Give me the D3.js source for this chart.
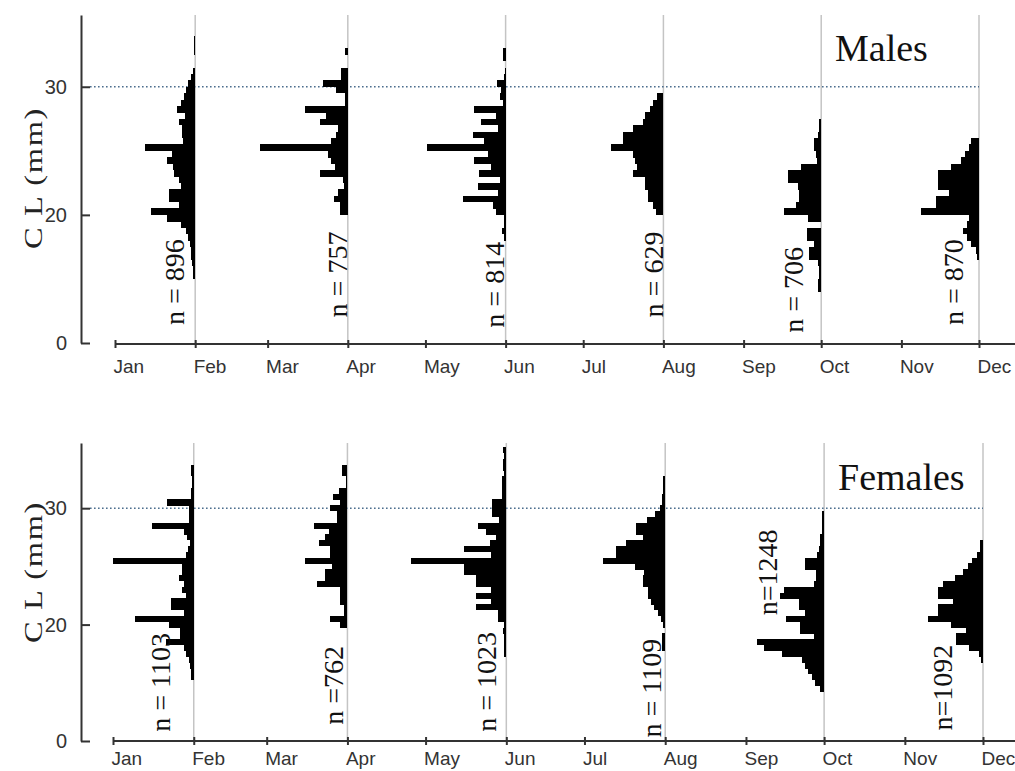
<!DOCTYPE html>
<html>
<head>
<meta charset="utf-8">
<title>Monthly CL frequency distributions</title>
<script src="https://cdn.jsdelivr.net/npm/d3@7"></script>
<style>
  html, body { margin: 0; padding: 0; background: #fff; }
  svg { display: block; }
</style>
</head>
<body>
<svg id="chart" width="1015" height="771"></svg>
<script>
// ---- axes -------------------------------------------------------------
const monthNames = ["Jan","Feb","Mar","Apr","May","Jun","Jul","Aug","Sep","Oct","Nov","Dec"];
const clExtent = [10, 35.6];          // carapace length range shown (mm)
const clTickValues = [10, 20, 30];
const clTickLabels = ["0", "20", "30"];
const clReference = 30;               // dotted reference size
const binWidth = 0.5;                 // histogram bin width (mm)
const sampleMonths = [1, 3, 5, 7, 9, 11];   // Feb, Apr, Jun, Aug, Oct, Dec
const yTitle = "C L (mm)";

// ---- males: relative frequency per bin, listed from the smallest bin up ----
const maleTitle = "Males";
const maleCounts = ["n = 896", "n = 757", "n = 814", "n = 629", "n = 706", "n = 870"];
const maleBinStart = [15.0, 20.0, 18.0, 20.0, 14.0, 16.5];
const maleFeb = [0.2,0.2,0.3,0.4,0.4,0.5,0.7,0.9,1.4,2.8,4.4,1.6,2.6,2.6,1.4,1.6,2.1,2.2,2.8,2.3,5.0,1.2,1.3,1.3,1.6,1.0,1.8,1.4,1.1,0.9,0.7,0.4,0.2,0,0,0.1,0.15,0.15];
const maleApr = [0.8,0.8,1.4,1.0,0.4,0.5,2.8,1.3,1.7,2.0,8.8,1.7,1.2,1.0,2.8,2.2,4.3,0.3,0.3,1.2,2.5,0.7,0.7,0,0,0.3];
const maleJun = [0.2,0.4,0.2,0.2,1.0,1.3,4.3,0.8,2.8,0.6,2.7,1.5,3.2,1.8,7.9,2.2,3.3,0.8,2.5,1.0,3.2,0.3,0.6,0.5,0.9,0.2,0.1,0,0.3,0.3];
const maleAug = [0.7,1.0,1.5,1.5,1.8,1.8,3.0,2.6,2.8,3.0,5.2,4.0,4.0,3.0,2.0,1.8,1.3,1.0,0.6];
const maleOct = [0.3,0.3,0.2,0.2,0.3,1.2,1.2,0.7,1.4,1.4,0,1.3,3.7,2.5,2.2,2.2,2.3,3.3,3.3,2.0,0.4,0.5,0.7,0.7,0.3,0.2,0.2];
const maleDec = [0.2,0.3,0.8,1.2,1.6,1.2,1.0,5.8,4.3,4.3,3.0,4.1,4.1,4.1,2.8,1.8,1.4,1.0,0.8];

// ---- females ------------------------------------------------------------
const femaleTitle = "Females";
const femaleCounts = ["n = 1103", "n =762", "n = 1023", "n = 1109", "n=1248", "n=1092"];
const femaleBinStart = [15.25, 19.75, 17.25, 17.75, 14.25, 16.75];
const femaleFeb = [0.3,0.3,0.4,0.5,0.8,1.0,2.8,1.4,1.4,2.5,5.9,1.0,2.3,2.3,0.8,1.2,1.0,1.5,1.2,1.2,8.1,0.8,0.6,0.4,0.7,1.0,4.2,0.5,0.5,0.5,2.7,0.3,0.3,0.2,0.2,0.3,0.3];
const femaleApr = [0.7,1.7,0.3,0.3,0.7,0.7,0.7,3.0,2.2,2.2,1.5,4.2,1.7,1.7,2.8,2.2,1.8,3.3,1.0,1.0,1.7,0.7,1.4,0.8,0.1,0.1,0.5,0.5];
const femaleJun = [0.2,0.2,0.2,0.2,0.3,0.2,0.8,0.8,3.0,1.5,3.0,1.5,3.0,3.0,4.2,4.2,9.5,1.5,4.2,1.6,1.0,2.0,2.8,0.7,1.4,1.4,1.4,0.4,0.4,0.4,0.4,0.2,0.3,0.3,0.2,0.3];
const femaleAug = [0.3,0.3,0.3,0,0.2,0.4,0.7,1.1,1.4,1.7,1.7,2.2,2.2,2.1,3.0,6.2,4.9,4.9,3.9,2.2,2.9,2.9,1.8,1.0,0.5,0.3,0.3,0.2,0.2,0.2];
const femaleOct = [0.4,0.9,1.2,1.6,1.9,2.2,4.2,6.0,6.7,1.0,2.4,2.4,3.8,1.9,2.5,2.5,4.4,4.0,1.0,0.8,0.8,1.9,1.9,0.7,0.5,0.4,0.4,0.2,0.2,0.2,0.2];
const femaleDec = [0.2,0.4,1.4,2.7,2.7,1.7,3.2,5.5,4.5,4.5,3.0,4.5,4.5,4.0,2.8,2.0,1.5,1.1,0.6,0.3,0.3];

// ---- layout -------------------------------------------------------------
const svg = d3.select("#chart");
const serif = "'Liberation Serif', 'Times New Roman', serif";
const sans = "'Liberation Sans', Arial, sans-serif";
const freqScale = d3.scaleLinear().domain([0, 10]).range([0, 100]);
const monthDate = m => new Date(Date.UTC(2001, m, 1));

const panels = [
  {
    title: maleTitle, counts: maleCounts, starts: maleBinStart,
    hists: [maleFeb, maleApr, maleJun, maleAug, maleOct, maleDec],
    xRange: [115, 979], yRange: [343, 15], axisY: 344, monthLabelY: 16,
    titleAt: [835, 61],
    // rotated n labels: offset from the month line, CL where the text starts
    countPos: [[-11, 11.4], [-1, 12.0], [-2, 11.2], [0, 12.0], [-18, 10.8], [-16, 11.4]],
    labelY: 178
  },
  {
    title: femaleTitle, counts: femaleCounts, starts: femaleBinStart,
    hists: [femaleFeb, femaleApr, femaleJun, femaleAug, femaleOct, femaleDec],
    xRange: [113, 983], yRange: [741, 443], axisY: 741, monthLabelY: 11,
    titleAt: [838, 490],
    countPos: [[-24, 10.8], [-4, 11.4], [-10, 10.8], [-4, 10.3], [-47, 20.8], [-31, 10.9]],
    labelY: 572
  }
];

const yAxisX = 81;

panels.forEach(p => {
  const x = d3.scaleUtc().domain([monthDate(0), monthDate(11)]).range(p.xRange);
  const y = d3.scaleLinear().domain(clExtent).range(p.yRange);
  const g = svg.append("g");

  // vertical guide lines at each sampling month
  g.selectAll("line.guide").data(sampleMonths).join("line")
    .attr("class", "guide")
    .attr("x1", m => x(monthDate(m))).attr("x2", m => x(monthDate(m)))
    .attr("y1", y(clExtent[1])).attr("y2", p.axisY)
    .attr("stroke", "#c4c4c4").attr("stroke-width", 1.5);

  // dotted reference line
  g.append("line")
    .attr("x1", yAxisX + 9).attr("x2", x(monthDate(11)))
    .attr("y1", y(clReference)).attr("y2", y(clReference))
    .attr("stroke", "#4d6e8e").attr("stroke-width", 1.6)
    .attr("stroke-dasharray", "1.6 2.4");

  // horizontal histograms hanging to the left of each month line
  p.hists.forEach((vals, i) => {
    const right = x(monthDate(sampleMonths[i]));
    const bins = vals.map((v, k) => ({ lo: p.starts[i] + k * binWidth, v }));
    g.append("g").selectAll("rect").data(bins.filter(b => b.v > 0)).join("rect")
      .attr("x", b => right - freqScale(b.v))
      .attr("width", b => freqScale(b.v))
      .attr("y", b => y(b.lo + binWidth))
      .attr("height", b => y(b.lo) - y(b.lo + binWidth) + 0.3)
      .attr("fill", "#000")
      .attr("shape-rendering", "crispEdges");
  });

  // sample size labels
  p.counts.forEach((txt, i) => {
    const [dx, cl] = p.countPos[i];
    const bx = x(monthDate(sampleMonths[i])) + dx;
    g.append("text")
      .attr("transform", `translate(${bx},${y(cl)}) rotate(-90) scale(1,0.95)`)
      .attr("font-family", serif).attr("font-size", 28)
      .attr("fill", "#111")
      .text(txt);
  });

  // y axis with ticks pointing inwards
  const yAxis = d3.axisLeft(y)
    .tickValues(clTickValues)
    .tickFormat((d, i) => clTickLabels[i])
    .tickSizeInner(-9).tickSizeOuter(0).tickPadding(14);
  g.append("g").attr("transform", `translate(${yAxisX},0)`).call(yAxis)
    .call(a => a.select(".domain").attr("stroke", "#333").attr("stroke-width", 2))
    .call(a => a.selectAll(".tick line").attr("stroke", "#333").attr("stroke-width", 2))
    .call(a => a.selectAll(".tick text")
      .attr("font-family", sans).attr("font-size", 20).attr("fill", "#333"));

  // month axis, ticks cross the line, labels start at the tick
  const xAxis = d3.axisBottom(x)
    .tickValues(monthNames.map((_, m) => monthDate(m)))
    .tickFormat((d, i) => monthNames[i])
    .tickSizeInner(4).tickSizeOuter(0);
  g.append("g").attr("transform", `translate(0,${p.axisY})`).call(xAxis)
    .call(a => a.select(".domain").attr("d", `M${p.xRange[0]},0H1015`)
      .attr("stroke", "#333").attr("stroke-width", 2))
    .call(a => a.selectAll(".tick line").attr("y1", -4)
      .attr("stroke", "#333").attr("stroke-width", 2))
    .call(a => a.selectAll(".tick text")
      .attr("text-anchor", "start").attr("x", -2).attr("y", p.monthLabelY)
      .attr("font-family", sans).attr("font-size", 19).attr("fill", "#333"));

  // axis title
  g.append("text")
    .attr("transform", `translate(42,${p.labelY}) rotate(-90) scale(1.12,0.85)`)
    .attr("text-anchor", "middle")
    .attr("letter-spacing", 1.5)
    .attr("font-family", serif).attr("font-size", 29).attr("fill", "#222")
    .text(yTitle);

  // panel title
  g.append("text")
    .attr("x", p.titleAt[0]).attr("y", p.titleAt[1])
    .attr("font-family", serif).attr("font-size", 38).attr("fill", "#111")
    .text(p.title);
});
</script>
</body>
</html>
